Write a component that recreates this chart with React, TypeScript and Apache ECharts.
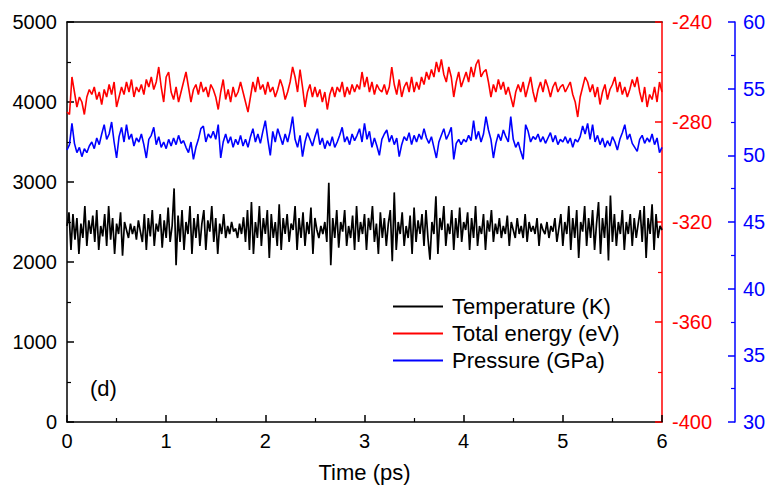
import React, { useEffect, useRef } from "react";
import * as echarts from "echarts";

const temperature: number[] = [
  2450, 2620, 2150, 2600, 2280, 2550, 2100, 2480, 2300, 2700, 2200, 2520, 2350, 2580, 2250, 2650, 2150, 2450, 2320, 2600,
  2200, 2700, 2280, 2550, 2100, 2480, 2350, 2620, 2080, 2500, 2400, 2300, 2480, 2350, 2450, 2280, 2520, 2380, 2250, 2600,
  2150, 2550, 2320, 2650, 2200, 2480, 2380, 2600, 2180, 2520, 2300, 2680, 2250, 2450, 2920, 1960, 2580, 2250, 2650, 2150,
  2500, 2350, 2700, 2100, 2550, 2300, 2600, 2200, 2480, 2650, 2150, 2520, 2380, 2700, 2250, 2550, 2100, 2480, 2350, 2600,
  2300, 2450, 2350, 2500, 2380, 2420, 2300, 2480, 2350, 2560, 2250, 2650, 2150, 2750, 2100, 2500, 2300, 2700, 2200, 2550,
  2350, 2650, 2050, 2600, 2300, 2500, 2200, 2720, 2150, 2550, 2350, 2600, 2250, 2480, 2400, 2700, 2150, 2550, 2300, 2620,
  2200, 2500, 2350, 2680, 2100, 2550, 2400, 2300, 2450, 2350, 2500, 2250, 2990, 1960, 2550, 2300, 2650, 2180, 2500, 2380,
  2650, 2200, 2450, 2300, 2580, 2150, 2700, 2250, 2500, 2350, 2600, 2150, 2550, 2400, 2700, 2250, 2480, 2100, 2620, 2300,
  2550, 2200, 2480, 2650, 2010, 2870, 2150, 2500, 2350, 2620, 2200, 2450, 2300, 2580, 2100, 2680, 2250, 2520, 2350, 2600,
  2200, 2650, 2300, 2030, 2500, 2350, 2820, 2100, 2550, 2400, 2700, 2200, 2480, 2350, 2650, 2150, 2550, 2300, 2680, 2250,
  2500, 2400, 2620, 2150, 2550, 2300, 2700, 2200, 2450, 2350, 2600, 2150, 2520, 2380, 2650, 2250, 2480, 2350, 2550, 2300,
  2450, 2350, 2580, 2200, 2500, 2400, 2300, 2550, 2350, 2450, 2300, 2600, 2250, 2500, 2380, 2450, 2350, 2550, 2200, 2480,
  2400, 2350, 2500, 2300, 2450, 2380, 2550, 2250, 2420, 2600, 2200, 2500, 2350, 2700, 2150, 2550, 2300, 2650, 2050, 2500,
  2380, 2700, 2200, 2550, 2300, 2650, 2150, 2480, 2750, 2100, 2550, 2300, 2700, 2020, 2830, 2250, 2600, 2200, 2500, 2350,
  2650, 2150, 2500, 2350, 2600, 2200, 2550, 2300, 2480, 2650, 2250, 2700, 2050, 2550, 2350, 2720, 2150, 2600, 2300, 2450,
  2400,
];

const energy: number[] = [
  -276, -277, -262, -268, -274, -270, -272, -277, -270, -267,
  -269, -266, -271, -268, -273, -267, -270, -265, -269, -264,
  -274, -270, -266, -269, -264, -268, -263, -270, -266, -268,
  -265, -269, -263, -266, -262, -267, -264, -258, -266, -272,
  -262, -260, -268, -271, -266, -272, -268, -264, -260, -266,
  -272, -267, -265, -269, -264, -268, -266, -270, -265, -267,
  -270, -275, -268, -263, -271, -267, -272, -266, -270, -268,
  -264, -268, -272, -276, -270, -264, -268, -262, -267, -265,
  -269, -264, -268, -266, -270, -267, -263, -266, -271, -268,
  -264, -258, -262, -268, -259, -266, -274, -268, -265, -270,
  -266, -270, -267, -272, -268, -275, -269, -266, -270, -266,
  -268, -264, -270, -266, -269, -265, -268, -265, -267, -260,
  -266, -262, -268, -264, -269, -265, -267, -268, -265, -269,
  -266, -258, -265, -269, -263, -270, -266, -264, -268, -262,
  -268, -264, -267, -262, -265, -260, -263, -259, -262, -256,
  -260, -255, -261, -264, -258, -262, -270, -264, -260, -266,
  -263, -260, -264, -258, -262, -257, -255, -262, -260, -259,
  -264, -270, -265, -268, -263, -267, -264, -269, -266, -270,
  -274, -268, -265, -268, -264, -270, -266, -262, -268, -272,
  -267, -264, -268, -263, -266, -270, -266, -264, -268, -266,
  -265, -268, -266, -264, -269, -272, -278, -270, -266, -262,
  -264, -268, -265, -270, -266, -273, -268, -265, -271, -267,
  -265, -262, -268, -264, -269, -266, -270, -267, -263, -266,
  -262, -268, -272, -266, -274, -269, -271, -266, -272, -264,
  -268,
];

const pressure: number[] = [
  50.4, 50.8, 52.4, 50.9, 50.2, 50.6, 49.9, 50.5, 50.2, 50.7,
  51.0, 50.5, 51.3, 50.8, 51.6, 52.3, 51.2, 51.6, 52.5, 51.0,
  49.8, 51.4, 52.1, 51.0, 52.3, 51.2, 51.6, 50.7, 51.3, 51.0,
  51.6, 50.8, 49.8, 51.2, 51.5, 52.1, 50.8, 51.4, 50.6, 51.0,
  50.5, 51.2, 50.7, 51.3, 50.8, 51.5, 50.9, 51.1, 50.6, 50.2,
  51.0, 49.7, 50.6, 51.2, 52.0, 52.2, 51.0, 51.6, 51.3, 51.8,
  51.2, 52.3, 49.8, 51.0, 51.6, 50.9, 51.4, 50.6, 51.2, 50.8,
  51.5, 50.7, 51.2, 50.6, 51.4, 52.0, 51.0, 51.6, 50.9, 51.8,
  52.6, 51.2, 50.0, 51.8, 51.0, 52.0, 51.4, 50.8, 51.6, 51.0,
  51.8, 52.9, 51.2, 50.6, 51.5, 49.9, 51.0, 51.7, 51.2, 50.7,
  51.4, 52.0, 50.8, 51.3, 50.5, 51.1, 50.7, 51.4, 50.6, 51.0,
  51.5, 52.1, 51.0, 51.4, 50.8, 51.6, 51.1, 51.5, 52.0, 51.0,
  52.4, 51.2, 51.8, 50.6, 51.3, 50.7, 50.0, 51.2, 51.6, 51.9,
  51.0, 51.5, 50.8, 51.3, 49.9, 50.8, 51.4, 51.1, 51.7, 50.8,
  51.5, 51.0, 51.6, 51.2, 52.0, 51.3, 50.9, 51.4, 50.6, 49.8,
  51.0, 51.5, 52.0, 51.2, 51.6, 52.1, 49.7, 50.9, 51.2, 50.8,
  51.2, 51.0, 51.5, 51.1, 52.6, 51.2, 51.8, 51.0, 51.6, 52.9,
  51.9, 51.2, 49.8, 50.9, 51.6, 51.1, 51.9, 51.4, 51.0, 52.9,
  51.2, 50.6, 51.0, 50.3, 49.7, 52.3, 51.8, 51.0, 51.4, 51.2,
  51.6, 51.0, 51.4, 50.9, 51.3, 51.7, 51.0, 51.5, 50.8, 51.2,
  51.0, 51.4, 50.9, 51.3, 50.6, 51.2, 51.0, 51.4, 52.2, 51.6,
  52.4, 51.2, 52.3, 51.0, 51.5, 50.8, 51.3, 50.6, 51.1, 50.7,
  51.4, 51.0, 50.4, 51.2, 51.7, 52.3, 51.2, 51.6, 50.9, 50.6,
  50.3, 51.2, 51.5, 50.9, 51.3, 51.0, 51.6, 50.8, 51.3, 50.2,
  50.6,
];

const seriesNames = ["Temperature (K)", "Total energy (eV)", "Pressure (GPa)"];
const timeMax = 6;

const FONT = "Liberation Sans, Arial, sans-serif";

function toPairs(values: number[]): [number, number][] {
  const step = timeMax / (values.length - 1);
  return values.map((v, i) => [+(i * step).toFixed(4), v]);
}

const plain = (v: number) => String(v);

export default function App() {
  const ref = useRef<HTMLDivElement>(null);
  useEffect(() => {
    if (!ref.current) return;
    const chart = echarts.init(ref.current, undefined, { renderer: "svg" });
    const axisFont = { fontFamily: FONT, fontSize: 20 };
    chart.setOption({
      animation: false,
      backgroundColor: "#ffffff",
      grid: { left: 67, right: 107, top: 22, bottom: 68, containLabel: false },
      legend: {
        orient: "vertical",
        left: 388,
        top: 290,
        itemWidth: 50,
        itemHeight: 2,
        itemGap: 4,
        icon: "rect",
        data: seriesNames,
        textStyle: { fontFamily: FONT, fontSize: 22, color: "#000", lineHeight: 23, padding: [0, 0, 0, 4] },
      },
      xAxis: [
        {
          type: "value",
          min: 0,
          max: timeMax,
          interval: 1,
          name: "Time (ps)",
          nameLocation: "middle",
          nameGap: 39,
          nameTextStyle: { fontFamily: FONT, fontSize: 22, color: "#000" },
          axisLine: { show: true, onZero: false, lineStyle: { color: "#000", width: 1.5 } },
          axisTick: { inside: true, length: 7, lineStyle: { color: "#000", width: 1.5 } },
          minorTick: { show: true, splitNumber: 2, length: 4, lineStyle: { color: "#000", width: 1.2 } },
          axisLabel: { ...axisFont, color: "#000", margin: 9, formatter: plain },
          splitLine: { show: false },
        },
        {
          type: "value",
          position: "top",
          min: 0,
          max: timeMax,
          axisLine: { show: true, onZero: false, lineStyle: { color: "#000", width: 1.5 } },
          axisTick: { show: false },
          axisLabel: { show: false },
          splitLine: { show: false },
        },
      ],
      yAxis: [
        {
          type: "value",
          min: 0,
          max: 5000,
          interval: 1000,
          position: "left",
          axisLine: { show: true, onZero: false, lineStyle: { color: "#000", width: 1.5 } },
          axisTick: { inside: true, length: 7, lineStyle: { color: "#000", width: 1.5 } },
          minorTick: { show: true, splitNumber: 2, length: 4, lineStyle: { color: "#000", width: 1.2 } },
          axisLabel: { ...axisFont, color: "#000", margin: 10, formatter: plain },
          splitLine: { show: false },
        },
        {
          type: "value",
          min: -400,
          max: -240,
          interval: 40,
          position: "right",
          offset: 0,
          axisLine: { show: true, onZero: false, lineStyle: { color: "#ff0000", width: 1.5 } },
          axisTick: { inside: true, length: 7, lineStyle: { color: "#ff0000", width: 1.5 } },
          minorTick: { show: true, splitNumber: 2, length: 4, lineStyle: { color: "#ff0000", width: 1.2 } },
          axisLabel: { ...axisFont, color: "#ff0000", margin: 10, formatter: plain },
          splitLine: { show: false },
        },
        {
          type: "value",
          min: 30,
          max: 60,
          interval: 5,
          position: "right",
          offset: 73,
          axisLine: { show: true, onZero: false, lineStyle: { color: "#0000ff", width: 1.5 } },
          axisTick: { inside: true, length: 7, lineStyle: { color: "#0000ff", width: 1.5 } },
          minorTick: { show: true, splitNumber: 2, length: 4, lineStyle: { color: "#0000ff", width: 1.2 } },
          axisLabel: { ...axisFont, color: "#0000ff", margin: 8, formatter: plain },
          splitLine: { show: false },
        },
      ],
      graphic: [
        {
          type: "text",
          left: 90,
          top: 377,
          style: { text: "(d)", fontFamily: FONT, fontSize: 22, fill: "#000" },
        },
      ],
      series: [
        {
          name: seriesNames[0],
          type: "line",
          xAxisIndex: 0,
          yAxisIndex: 0,
          symbol: "none",
          data: toPairs(temperature),
          lineStyle: { color: "#000000", width: 1.7 },
          itemStyle: { color: "#000000" },
          z: 3,
        },
        {
          name: seriesNames[1],
          type: "line",
          xAxisIndex: 0,
          yAxisIndex: 1,
          symbol: "none",
          data: toPairs(energy),
          lineStyle: { color: "#ff0000", width: 1.6 },
          itemStyle: { color: "#ff0000" },
          z: 2,
        },
        {
          name: seriesNames[2],
          type: "line",
          xAxisIndex: 0,
          yAxisIndex: 2,
          symbol: "none",
          data: toPairs(pressure),
          lineStyle: { color: "#0000ff", width: 1.6 },
          itemStyle: { color: "#0000ff" },
          z: 2,
        },
      ],
    });
    return () => chart.dispose();
  }, []);
  return (
    <div
      ref={ref}
      style={{ position: "fixed", left: 0, top: 0, width: 769, height: 490 }}
    />
  );
}
